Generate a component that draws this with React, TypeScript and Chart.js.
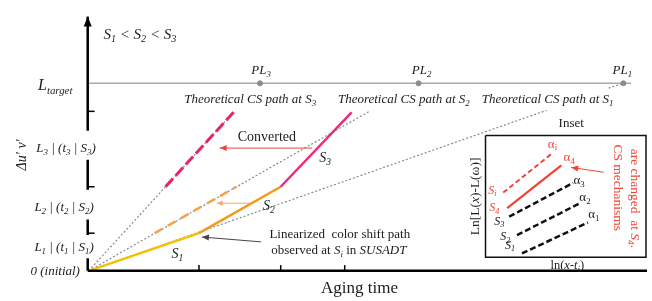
import React, { useEffect, useRef } from "react";
import { Chart, registerables } from "chart.js";

Chart.register(...registerables);

// Diagram coordinates: X = aging time (origin at the axes corner), Y = Δu'v'
const X_MIN = -85;
const X_MAX = 567;
const Y_MIN = -26;
const Y_MAX = 275;

const levelValues = [39, 87, 165]; // L1, L2, L3
const targetLevel = 194; // L_target
const timeTicks = [112, 195, 260]; // t1, t2, t3
const plX = [543, 335, 174]; // PL1, PL2, PL3 on L_target

// observed (linearized) path: S1 -> S2 -> S3
const pathS1 = [{ x: 0, y: 0 }, { x: 112, y: 39 }];
const pathS2 = [{ x: 112, y: 39 }, { x: 195, y: 87 }];
const pathS3 = [{ x: 195, y: 87 }, { x: 267, y: 164 }];

// theoretical CS paths (visible parts)
const theoS1 = [{ x: 0, y: 0 }, { x: 465, y: 166 }];
const theoS1Tail = [{ x: 528, y: 189 }, { x: 543, y: 194 }];
const theoS2 = [{ x: 0, y: 0 }, { x: 285, y: 165 }];
const theoS3 = [{ x: 0, y: 0 }, { x: 148, y: 165 }];

// converted segments
const convS2 = [{ x: 67, y: 39 }, { x: 150, y: 87 }];
const convS3 = [{ x: 78, y: 87 }, { x: 148, y: 165 }];

// inset box and lines
const insetBox = [
  { x: 403, y: 140 }, { x: 566, y: 140 }, { x: 566, y: 14 }, { x: 403, y: 14 }, { x: 403, y: 140 },
];
const insetS1 = [{ x: 440, y: 18 }, { x: 507, y: 50 }];
const insetS2 = [{ x: 435, y: 37 }, { x: 499, y: 70 }];
const insetS3 = [{ x: 427, y: 56 }, { x: 492, y: 91 }];
const insetS4 = [{ x: 425, y: 65 }, { x: 480, y: 109 }];
const insetSi = [{ x: 421, y: 81 }, { x: 470, y: 121 }];

// arrows [from, to]
const arrowConverted = [{ x: 227, y: 127 }, { x: 133, y: 127 }];
const arrowS2 = [{ x: 165, y: 70 }, { x: 130, y: 70 }];
const arrowObserved = [{ x: 175, y: 30 }, { x: 115, y: 35 }];
const arrowInset = [{ x: 523, y: 102 }, { x: 490, y: 107 }];
const arrowYAxis = [{ x: -1, y: 254 }, { x: -1, y: 263 }];

// y-axis pieces (gaps under the level labels)
const yAxisPieces = [
  [{ x: -1, y: 255 }, { x: -1, y: 145 }],
  [{ x: -1, y: 115 }, { x: -1, y: 84 }],
  [{ x: -1, y: 53 }, { x: -1, y: 37 }],
  [{ x: -1, y: 13 }, { x: -1, y: 0 }],
];
const xAxisLine = [{ x: -1, y: 0 }, { x: 567, y: 0 }];
const targetLine = [{ x: 0, y: targetLevel }, { x: 551, y: targetLevel }];

const FONT = '"Liberation Serif", "Times New Roman", serif';
const TXT = "#1c1c1c";
const RED = "#EE4436";

type Label = {
  text: string;
  x: number;
  y: number;
  size: number;
  italic?: boolean;
  color?: string;
  rot?: number;
};

const labels: Label[] = [
  { text: "S_1 < S_2 < S_3", x: 52, y: 244, size: 15, italic: true },
  { text: "L_{target}", x: -34, y: 191, size: 16, italic: true },
  { text: "L_3 | (t_3 | S_3)", x: -23, y: 126, size: 13, italic: true },
  { text: "L_2 | (t_2 | S_2)", x: -25, y: 65, size: 13, italic: true },
  { text: "L_1 | (t_1 | S_1)", x: -25, y: 24, size: 13, italic: true },
  { text: "0 (initial)", x: -34, y: -1, size: 13, italic: true },
  { text: "Δu′ v′", x: -67, y: 120, size: 14, italic: true, rot: -90 },
  { text: "PL_3", x: 175, y: 207, size: 13, italic: true },
  { text: "PL_2", x: 338, y: 207, size: 13, italic: true },
  { text: "PL_1", x: 542, y: 207, size: 13, italic: true },
  { text: "Theoretical CS path at S_3", x: 164, y: 177, size: 13, italic: true },
  { text: "Theoretical CS path at S_2", x: 320, y: 177, size: 13, italic: true },
  { text: "Theoretical CS path at S_1", x: 466, y: 177, size: 13, italic: true },
  { text: "Converted", x: 181, y: 138, size: 14 },
  { text: "S_3", x: 240, y: 116, size: 14, italic: true },
  { text: "S_2", x: 183, y: 67, size: 14, italic: true },
  { text: "S_1", x: 90, y: 17, size: 14, italic: true },
  { text: "Linearized  color shift path", x: 255, y: 38, size: 13 },
  { text: "observed at *S_i* in *SUSADT", x: 254, y: 21, size: 13 },
  { text: "Aging time", x: 275, y: -18, size: 17 },
  { text: "Inset", x: 490, y: 152, size: 13 },
  { text: "ln(*x*-*t_i*)", x: 486, y: 5, size: 12.5 },
  { text: "Ln[L(*x*)-L(ω)]", x: 393, y: 77, size: 13.5, rot: -90 },
  { text: "S_i", x: 410, y: 83, size: 12, italic: true, color: RED },
  { text: "S_4", x: 412, y: 65, size: 12, italic: true, color: RED },
  { text: "S_3", x: 417, y: 51, size: 12, italic: true },
  { text: "S_2", x: 423, y: 35, size: 12, italic: true },
  { text: "S_1", x: 428, y: 26, size: 12, italic: true },
  { text: "α_i", x: 471, y: 131, size: 13, color: RED },
  { text: "α_4", x: 488, y: 117, size: 13, color: RED },
  { text: "α_3", x: 498, y: 93, size: 13 },
  { text: "α_2", x: 504, y: 76, size: 13 },
  { text: "α_1", x: 513, y: 58, size: 13 },
  { text: "CS mechanisms", x: 537, y: 86, size: 13.5, color: RED, rot: 90 },
  { text: "are changed  at *S_4*.", x: 554, y: 75, size: 13.5, color: RED, rot: 90 },
];

type Arrow = { pts: { x: number; y: number }[]; color: string; len: number; half: number };
const arrowHeads: Arrow[] = [
  { pts: arrowConverted, color: "#E84646", len: 7, half: 3 },
  { pts: arrowS2, color: "#F6A870", len: 6, half: 2.6 },
  { pts: arrowObserved, color: "#444", len: 7, half: 3 },
  { pts: arrowInset, color: RED, len: 7, half: 3 },
  { pts: arrowYAxis, color: "#000", len: 10, half: 4 },
];

type Seg = { t: string; sub: boolean; it: boolean };
function parseRich(src: string, baseItalic: boolean): Seg[] {
  const segs: Seg[] = [];
  let it = baseItalic;
  let buf = "";
  let i = 0;
  const flush = () => {
    if (buf) {
      segs.push({ t: buf, sub: false, it });
      buf = "";
    }
  };
  while (i < src.length) {
    const c = src[i];
    if (c === "*") {
      flush();
      it = !it;
      i++;
      continue;
    }
    if (c === "_") {
      flush();
      let t = "";
      if (src[i + 1] === "{") {
        const j = src.indexOf("}", i);
        t = src.slice(i + 2, j);
        i = j + 1;
      } else {
        t = src[i + 1];
        i += 2;
      }
      segs.push({ t, sub: true, it });
      continue;
    }
    buf += c;
    i++;
  }
  flush();
  return segs;
}

function fontFor(seg: Seg, size: number) {
  const s = seg.sub ? size * 0.68 : size;
  return `${seg.it ? "italic " : ""}${s}px ${FONT}`;
}

const decorPlugin = {
  id: "decor",
  afterDatasetsDraw(chart: any) {
    const ctx = chart.ctx as CanvasRenderingContext2D;
    const xs = chart.scales.x;
    const ys = chart.scales.y;
    // arrow heads
    arrowHeads.forEach((a) => {
      const x0 = xs.getPixelForValue(a.pts[0].x);
      const y0 = ys.getPixelForValue(a.pts[0].y);
      const x1 = xs.getPixelForValue(a.pts[1].x);
      const y1 = ys.getPixelForValue(a.pts[1].y);
      const ang = Math.atan2(y1 - y0, x1 - x0);
      ctx.save();
      ctx.translate(x1, y1);
      ctx.rotate(ang);
      ctx.fillStyle = a.color;
      ctx.beginPath();
      ctx.moveTo(0, 0);
      ctx.lineTo(-a.len, -a.half);
      ctx.lineTo(-a.len, a.half);
      ctx.closePath();
      ctx.fill();
      ctx.restore();
    });
    // labels
    labels.forEach((l) => {
      const segs = parseRich(l.text, !!l.italic);
      let total = 0;
      const widths = segs.map((s) => {
        ctx.font = fontFor(s, l.size);
        const w = ctx.measureText(s.t).width;
        total += w;
        return w;
      });
      const px = xs.getPixelForValue(l.x);
      const py = ys.getPixelForValue(l.y);
      ctx.save();
      ctx.translate(px, py);
      if (l.rot) ctx.rotate((l.rot * Math.PI) / 180);
      ctx.fillStyle = l.color || TXT;
      ctx.textBaseline = "middle";
      ctx.textAlign = "left";
      let cx = -total / 2;
      segs.forEach((s, k) => {
        ctx.font = fontFor(s, l.size);
        ctx.fillText(s.t, cx, s.sub ? l.size * 0.3 : 0);
        cx += widths[k];
      });
      ctx.restore();
    });
  },
};

function line(data: { x: number; y: number }[], color: string, width: number, dash: number[] = []) {
  return {
    data,
    showLine: true,
    borderColor: color,
    backgroundColor: color,
    borderWidth: width,
    borderDash: dash,
    pointRadius: 0,
    fill: false,
    tension: 0,
  };
}

export default function App() {
  const ref = useRef<HTMLCanvasElement | null>(null);
  useEffect(() => {
    document.body.style.margin = "0";
    if (!ref.current) return;
    const datasets: any[] = [
      // top-most first
      line(arrowYAxis, "#000", 2.5),
      line(xAxisLine, "#000", 2.5),
      ...yAxisPieces.map((p) => line(p, "#000", 2.5)),
      ...levelValues.map((v) => line([{ x: -1, y: v }, { x: 6, y: v }], "#000", 1.5)),
      ...timeTicks.map((t) => line([{ x: t, y: 0 }, { x: t, y: 6 }], "#000", 1.5)),
      line(pathS3, "#EE2A7B", 2.5),
      line(pathS2, "#F39A1C", 2.5),
      line(pathS1, "#F5C000", 2.5),
      line(convS3, "#E8246F", 3, [11, 4]),
      line(convS2, "#F4A24A", 2.5, [9, 6]),
      line(arrowConverted, "#E84646", 1),
      line(arrowS2, "#F6A870", 1),
      line(arrowObserved, "#444", 1),
      line(arrowInset, RED, 1),
      line(insetBox, "#111", 1.5),
      line(insetS4, RED, 2.2),
      line(insetSi, RED, 2, [5, 3]),
      line(insetS3, "#111", 2.5, [6, 3]),
      line(insetS2, "#111", 2.5, [6, 3]),
      line(insetS1, "#111", 2.5, [6, 3]),
      {
        data: plX.map((x) => ({ x, y: targetLevel })),
        showLine: false,
        pointRadius: 2.5,
        pointBackgroundColor: "#8c8c8c",
        pointBorderColor: "#8c8c8c",
      },
      line(targetLine, "#a9a9a9", 1.5),
      line(theoS3, "#8a8a8a", 1.2, [2, 2]),
      line(theoS2, "#8a8a8a", 1.2, [2, 2]),
      line(theoS1, "#8a8a8a", 1.2, [2, 2]),
      line(theoS1Tail, "#8a8a8a", 1.2, [2, 2]),
    ];
    const chart = new Chart(ref.current, {
      type: "scatter",
      data: { datasets },
      options: {
        animation: false,
        responsive: false,
        maintainAspectRatio: false,
        events: [],
        layout: { padding: 0 },
        plugins: { legend: { display: false }, tooltip: { enabled: false } },
        scales: {
          x: { type: "linear", min: X_MIN, max: X_MAX, display: false },
          y: { type: "linear", min: Y_MIN, max: Y_MAX, display: false },
        },
      },
      plugins: [decorPlugin],
    } as any);
    return () => chart.destroy();
  }, []);
  return (
    <div style={{ width: 652, height: 301, background: "#fff" }}>
      <canvas ref={ref} width={652} height={301} style={{ display: "block" }} />
    </div>
  );
}
